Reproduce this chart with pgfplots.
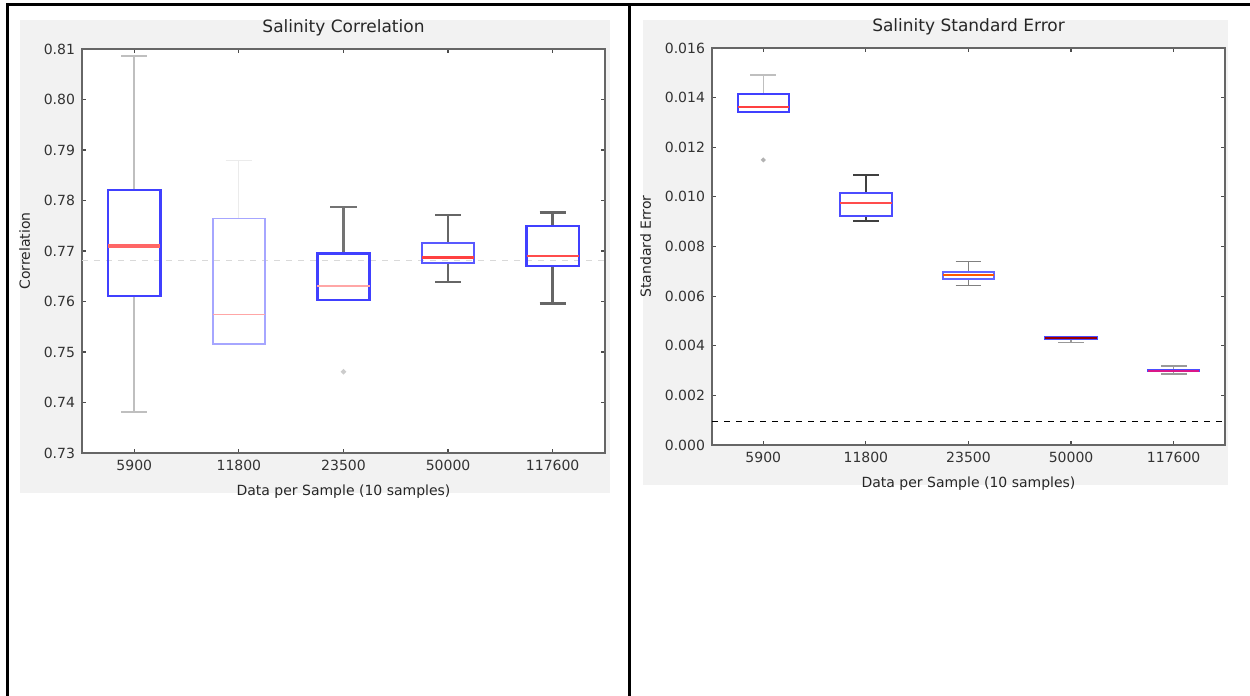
\documentclass[border=0pt]{standalone}
\usepackage{fontspec}
\setmainfont{DejaVu Sans}
\usepackage{pgfplots}
\pgfplotsset{compat=1.18}
\usepgfplotslibrary{statistics}
\begin{document}
\begin{tikzpicture}
\useasboundingbox (0,0) rectangle (625pt,348pt);
% backgrounds
\fill[black!5] (10pt,101.5pt) rectangle (305pt,338pt);
\fill[black!5] (321.5pt,105.5pt) rectangle (614pt,338pt);
% table borders
\draw[line width=1.5pt] (3.5pt,345.5pt) -- (625pt,345.5pt);
\draw[line width=1.5pt] (3.5pt,0pt) -- (3.5pt,346.25pt);
\draw[line width=1.5pt] (314.5pt,0pt) -- (314.5pt,346.25pt);
\pgfplotsset{
  myax/.style={
    scale only axis,
    anchor=south west,
    xmin=0.5, xmax=5.5,
    xtick={1,2,3,4,5},
    xticklabels={5900,11800,23500,50000,117600},
    tick align=inside,
    major tick length=2pt,
    axis line style={black!60, line width=0.9pt},
    tick style={black!70, line width=0.6pt},
    axis background/.style={fill=white},
    ticklabel style={font=\fontsize{7}{8}\selectfont, text=black!80},
    label style={font=\fontsize{7}{8}\selectfont, text=black!85},
    title style={font=\fontsize{8.5}{10}\selectfont, text=black!85, yshift=-3pt},
    /pgf/number format/assume math mode=true,
    boxplot/draw direction=y,
    boxplot/box extend=0.5,
    boxplot/whisker extend=0.25,
    xlabel={Data per Sample (10 samples)},
  },
}
% ---------------- left -----------------
\begin{axis}[myax, at={(41pt,121.5pt)}, width=261.5pt, height=202pt,
  ymin=0.73, ymax=0.81, ytick={0.73,0.74,...,0.815},
  yticklabel style={/pgf/number format/fixed, /pgf/number format/fixed zerofill, /pgf/number format/precision=2},
  title={Salinity Correlation}, ylabel={Correlation}]
\addplot[black!15, dashed, line width=0.5pt] coordinates {(0.5,0.7682) (5.5,0.7682)};
\addplot[blue!75, line width=1.2pt,
  boxplot/every median/.style={red!60, line width=1.8pt},
  boxplot/every whisker/.style={black!25, line width=0.9pt},
  boxplot prepared={draw position=1, lower whisker=0.7381, lower quartile=0.7611,
    median=0.7710, upper quartile=0.7821, upper whisker=0.8086}] coordinates {};
\addplot[blue!35, line width=0.8pt,
  boxplot/every median/.style={red!35, line width=0.8pt},
  boxplot/every whisker/.style={black!8, line width=0.6pt},
  boxplot prepared={draw position=2, lower whisker=0.7516, lower quartile=0.7516,
    median=0.7574, upper quartile=0.7764, upper whisker=0.7880}] coordinates {};
\addplot[blue!75, line width=1.3pt, mark=*, mark size=0.5pt, mark options={black!20},
  boxplot/every median/.style={red!35, line width=0.7pt},
  boxplot/every whisker/.style={black!55, line width=1.2pt},
  boxplot prepared={draw position=3, lower whisker=0.7603, lower quartile=0.7603,
    median=0.7631, upper quartile=0.7695, upper whisker=0.7787}]
  table[row sep=\\, y index=0] {data\\ 0.7461\\};
\addplot[blue!65, line width=1.0pt,
  boxplot/every median/.style={red!75, line width=1.2pt},
  boxplot/every whisker/.style={black!60, line width=1.2pt},
  boxplot prepared={draw position=4, lower whisker=0.7639, lower quartile=0.7676,
    median=0.7687, upper quartile=0.7716, upper whisker=0.7771}] coordinates {};
\addplot[blue!75, line width=1.2pt,
  boxplot/every median/.style={red!70, line width=1.0pt},
  boxplot/every whisker/.style={black!60, line width=1.2pt},
  boxplot prepared={draw position=5, lower whisker=0.7596, lower quartile=0.7670,
    median=0.7691, upper quartile=0.7750, upper whisker=0.7776}] coordinates {};
\end{axis}
% ---------------- right (values in units of 0.001) -----------------
\begin{axis}[myax, at={(356pt,125.5pt)}, width=256.5pt, height=198.5pt,
  ymin=0, ymax=16, ytick={0,2,4,6,8,10,12,14,16},
  yticklabels={0.000,0.002,0.004,0.006,0.008,0.010,0.012,0.014,0.016},
  title={Salinity Standard Error}, ylabel={Standard Error}]
\addplot[black, dashed, line width=0.8pt] coordinates {(0.5,0.94) (5.5,0.94)};
\addplot[blue!75, line width=1.1pt, mark=*, mark size=0.5pt, mark options={black!30},
  boxplot/every median/.style={red!75, line width=1.0pt},
  boxplot/every whisker/.style={black!25, line width=0.8pt},
  boxplot prepared={draw position=1, lower whisker=13.43, lower quartile=13.43,
    median=13.64, upper quartile=14.14, upper whisker=14.92}]
  table[row sep=\\, y index=0] {data\\ 11.49\\};
\addplot[blue!70, line width=1.0pt,
  boxplot/every median/.style={red!70, line width=1.0pt},
  boxplot/every whisker/.style={black!75, line width=1.0pt},
  boxplot prepared={draw position=2, lower whisker=9.04, lower quartile=9.21,
    median=9.77, upper quartile=10.17, upper whisker=10.89}] coordinates {};
\addplot[blue!60, line width=1.0pt,
  boxplot/every median/.style={orange!70!red, line width=0.8pt},
  boxplot/every whisker/.style={black!50, line width=0.8pt},
  boxplot prepared={draw position=3, lower whisker=6.42, lower quartile=6.69,
    median=6.85, upper quartile=6.99, upper whisker=7.39}] coordinates {};
\addplot[blue!70, line width=1.0pt,
  boxplot/every median/.style={red!60!black, line width=0.9pt},
  boxplot/every whisker/.style={black!40, line width=0.8pt},
  boxplot prepared={draw position=4, lower whisker=4.13, lower quartile=4.28,
    median=4.31, upper quartile=4.34, upper whisker=4.36}] coordinates {};
\addplot[blue!70, line width=1.0pt,
  boxplot/every median/.style={magenta!80!violet, line width=0.9pt},
  boxplot/every whisker/.style={black!40, line width=0.8pt},
  boxplot prepared={draw position=5, lower whisker=2.86, lower quartile=2.97,
    median=2.99, upper quartile=3.02, upper whisker=3.19}] coordinates {};
\end{axis}
\end{tikzpicture}
\end{document}
